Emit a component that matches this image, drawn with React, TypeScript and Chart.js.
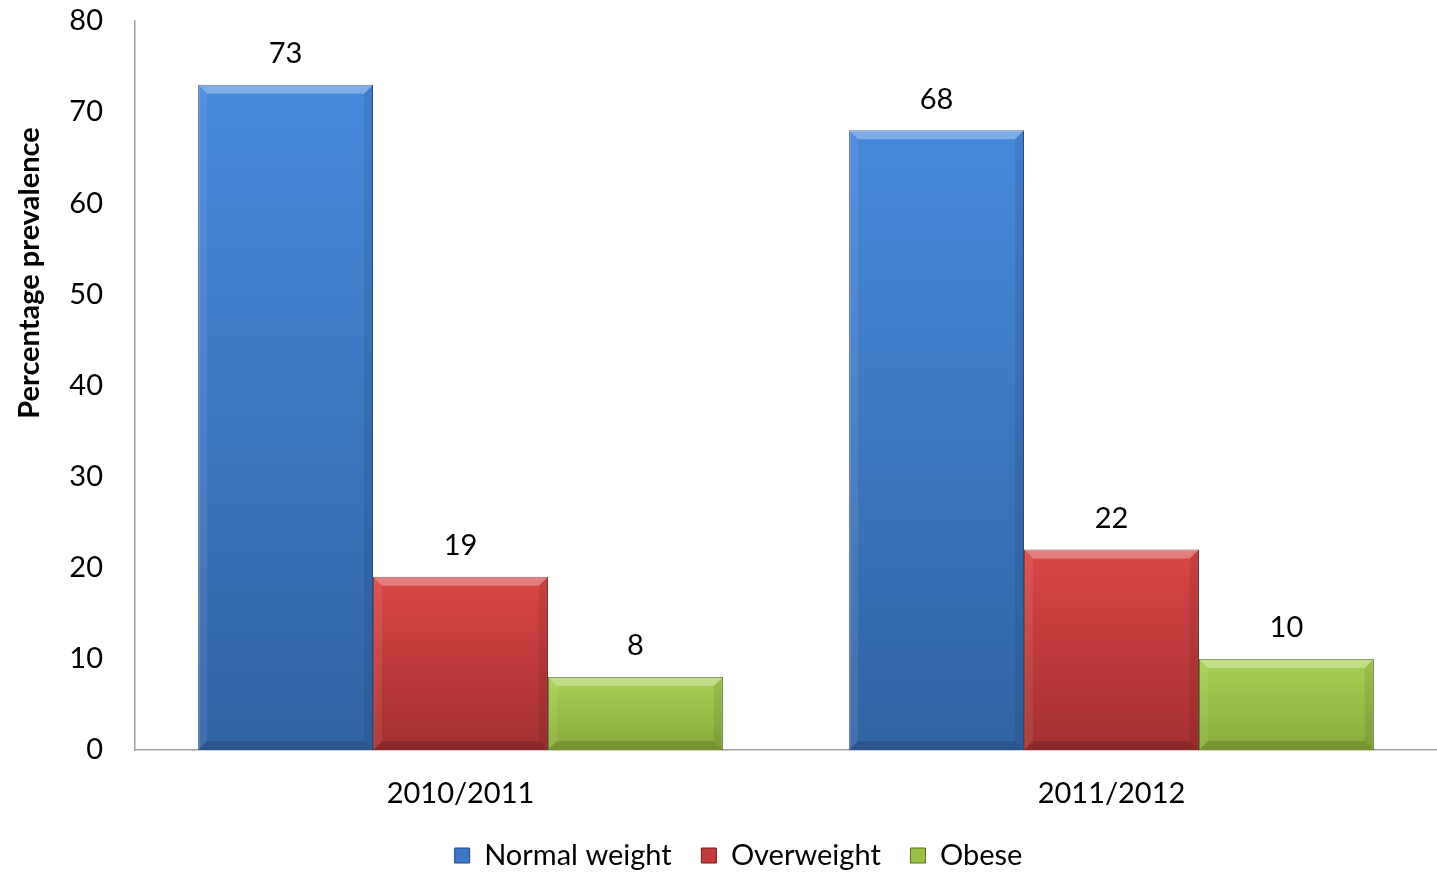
import React, { useEffect, useRef } from "react";
import { Chart, registerables } from "chart.js";

Chart.register(...registerables);

const categories = ["2010/2011", "2011/2012"];
const seriesNames = ["Normal weight", "Overweight", "Obese"];
const normalWeight = [73, 68];
const overweight = [19, 22];
const obese = [8, 10];
const yMin = 0;
const yMax = 80;
const yStep = 10;
const yTitle = "Percentage prevalence";

const seriesValues = [normalWeight, overweight, obese];
const topColors = ["#4689dc", "#d94646", "#a8d055"];
const bottomColors = ["#3263a4", "#a3302f", "#88ab3a"];
const midColors = ["#3d78c6", "#c23c3b", "#9bc047"];
const edgeColors = ["#24477a", "#6e1f1f", "#56701f"];

const FONT = "Lato, 'Open Sans', sans-serif";
const LEGEND_SHIFT = 8;

const bevelPlugin = {
  id: "bevel",
  afterDatasetsDraw(chart: any) {
    const ctx = chart.ctx;
    ctx.save();
    chart.data.datasets.forEach((_: any, i: number) => {
      const meta = chart.getDatasetMeta(i);
      meta.data.forEach((bar: any) => {
        const l = bar.x - bar.width / 2;
        const r = bar.x + bar.width / 2;
        const t = bar.y;
        const b = bar.base;
        const bv = Math.min(9, (b - t) / 3);
        const poly = (pts: number[][], color: string) => {
          ctx.beginPath();
          ctx.moveTo(pts[0][0], pts[0][1]);
          for (let k = 1; k < pts.length; k++) ctx.lineTo(pts[k][0], pts[k][1]);
          ctx.closePath();
          ctx.fillStyle = color;
          ctx.fill();
        };
        poly([[l, t], [r, t], [r - bv, t + bv], [l + bv, t + bv]], "rgba(255,255,255,0.3)");
        poly([[l, t], [l + bv, t + bv], [l + bv, b - bv], [l, b]], "rgba(255,255,255,0.08)");
        poly([[r, t], [r - bv, t + bv], [r - bv, b - bv], [r, b]], "rgba(0,0,0,0.08)");
        poly([[l, b], [l + bv, b - bv], [r - bv, b - bv], [r, b]], "rgba(0,0,0,0.14)");
      });
    });
    ctx.restore();
  },
};

const valueLabelPlugin = {
  id: "valueLabels",
  afterDatasetsDraw(chart: any) {
    const ctx = chart.ctx;
    ctx.save();
    ctx.font = `29px ${FONT}`;
    ctx.fillStyle = "#000";
    ctx.textAlign = "center";
    ctx.textBaseline = "middle";
    chart.data.datasets.forEach((ds: any, i: number) => {
      const meta = chart.getDatasetMeta(i);
      meta.data.forEach((bar: any, j: number) => {
        ctx.fillText(String(ds.data[j]), bar.x, bar.y - 31);
      });
    });
    ctx.restore();
  },
};

const axisTitlePlugin = {
  id: "axisTitle",
  afterDraw(chart: any) {
    const ctx = chart.ctx;
    ctx.save();
    ctx.translate(30, 273);
    ctx.rotate(-Math.PI / 2);
    ctx.font = `bold 29px ${FONT}`;
    ctx.fillStyle = "#000";
    ctx.textAlign = "center";
    ctx.textBaseline = "middle";
    ctx.fillText(yTitle, 0, 0);
    ctx.restore();
  },
};

export default function App() {
  const canvasRef = useRef<HTMLCanvasElement | null>(null);

  useEffect(() => {
    document.body.style.margin = "0";
    const canvas = canvasRef.current;
    if (!canvas) return;

    const datasets = seriesNames.map((name, i) => ({
      label: name,
      data: seriesValues[i],
      backgroundColor: (c: any) => {
        const chart = c.chart;
        const ys = chart.scales && chart.scales.y;
        if (c.type !== "data" || !ys || !chart.chartArea) return midColors[i];
        const top = ys.getPixelForValue(c.raw);
        const bottom = ys.getPixelForValue(0);
        if (!isFinite(top) || !isFinite(bottom) || top === bottom) return midColors[i];
        const g = chart.ctx.createLinearGradient(0, top, 0, bottom);
        g.addColorStop(0, topColors[i]);
        g.addColorStop(1, bottomColors[i]);
        return g;
      },
      borderColor: edgeColors[i],
      borderWidth: 1,
      categoryPercentage: 0.806,
      barPercentage: 1,
    }));

    const chart = new Chart(canvas, {
      type: "bar",
      data: { labels: categories, datasets },
      plugins: [bevelPlugin, valueLabelPlugin, axisTitlePlugin],
      options: {
        animation: false,
        responsive: true,
        maintainAspectRatio: false,
        layout: { padding: { top: 0, right: 0, left: 40, bottom: -LEGEND_SHIFT } },
        plugins: {
          tooltip: { enabled: false },
          legend: {
            position: "bottom",
            labels: {
              color: "#000",
              font: { family: FONT, size: 29 },
              boxWidth: 15,
              boxHeight: 15,
              padding: 0,
              generateLabels: (ch: any) => {
                const items = Chart.defaults.plugins.legend.labels.generateLabels(ch);
                return items.map((it: any, idx: number) => ({
                  ...it,
                  text: idx < items.length - 1 ? it.text + "    " : it.text,
                  fillStyle: midColors[idx],
                  strokeStyle: edgeColors[idx],
                  lineWidth: 1,
                }));
              },
            },
          },
        },
        scales: {
          x: {
            grid: { display: false, drawTicks: false },
            border: { display: true, color: "#a0a0a0", width: 1.5 },
            ticks: { color: "#000", font: { family: FONT, size: 29 }, padding: 26 },
            afterFit: (s: any) => {
              const lg = s.chart.legend;
              const lh = lg && lg.height ? lg.height : 40;
              s.height = 872 + LEGEND_SHIFT - 750 - lh;
            },
          },
          y: {
            min: yMin,
            max: yMax,
            grid: { display: false, drawTicks: false },
            border: { display: true, color: "#a0a0a0", width: 1.5 },
            ticks: { stepSize: yStep, color: "#000", font: { family: FONT, size: 29 }, padding: 32 },
            title: { display: false, text: yTitle },
            afterFit: (s: any) => {
              s.width = 95;
              s.paddingTop = 21;
              s.paddingBottom = 0;
            },
          },
        },
      },
    });

    return () => chart.destroy();
  }, []);

  return (
    <div style={{ width: "1437px", height: "872px", position: "relative" }}>
      <canvas ref={canvasRef} />
    </div>
  );
}
